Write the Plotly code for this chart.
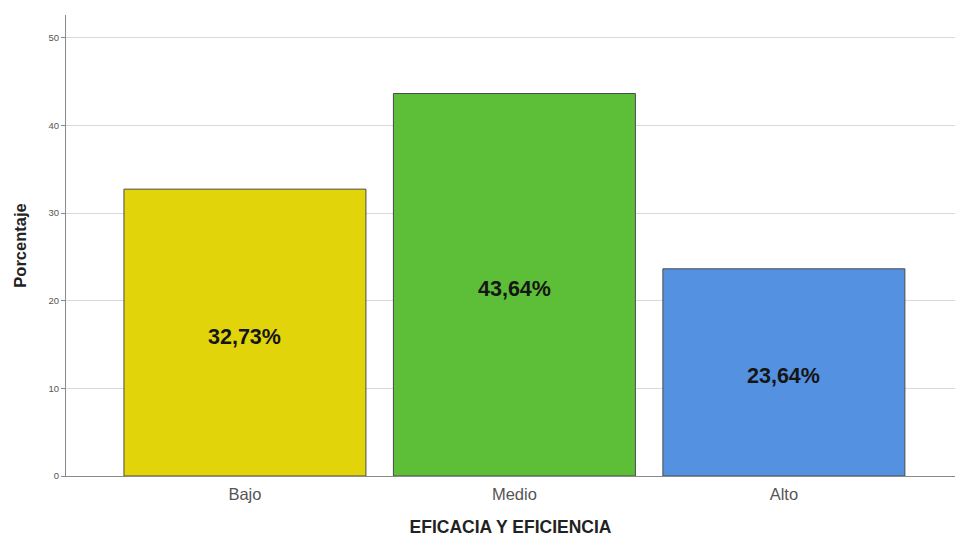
import plotly.graph_objects as go

# Nivel de eficacia y eficiencia (porcentaje de casos)
categorias = ["Bajo", "Medio", "Alto"]
porcentajes = [32.73, 43.64, 23.64]
colores = ["#E2D40B", "#5DBF38", "#5491E0"]
etiquetas = [f"{v:.2f}".replace(".", ",") + "%" for v in porcentajes]

fig = go.Figure(
    go.Bar(
        x=categorias,
        y=porcentajes,
        width=0.898,
        marker=dict(color=colores, line=dict(color="#4a4a4a", width=1)),
        hoverinfo="skip",
    )
)

# Etiqueta de porcentaje centrada en cada barra
for cat, val, txt in zip(categorias, porcentajes, etiquetas):
    fig.add_annotation(
        x=cat,
        y=val / 2,
        text=f"<b>{txt}</b>",
        showarrow=False,
        yshift=-4,
        font=dict(family="Liberation Sans, Arial", size=21.5, color="#151515"),
    )

fig.update_layout(
    width=955,
    height=537,
    margin=dict(l=66, r=0, t=15, b=61),
    plot_bgcolor="white",
    paper_bgcolor="white",
    showlegend=False,
    font=dict(family="Liberation Sans, Arial", color="#555555"),
    xaxis=dict(
        range=[-0.664, 2.635],
        showgrid=False,
        showline=True,
        linecolor="#8a8a8a",
        linewidth=1,
        ticks="",
        ticklabelstandoff=3,
        tickfont=dict(size=16.5, color="#555555"),
        title=dict(
            text="<b>EFICACIA Y EFICIENCIA</b>",
            font=dict(size=17.5, color="#222222"),
            standoff=19,
        ),
    ),
    yaxis=dict(
        range=[0, 52.6],
        tickvals=[0, 10, 20, 30, 40, 50],
        showgrid=True,
        gridcolor="#d9d9d9",
        gridwidth=1,
        showline=True,
        linecolor="#8a8a8a",
        linewidth=1,
        ticks="outside",
        ticklen=4,
        tickcolor="#8a8a8a",
        tickfont=dict(size=9.5, color="#555555"),
        zeroline=False,
        title=dict(
            text="<b>Porcentaje</b>",
            font=dict(size=16.5, color="#222222"),
            standoff=17,
        ),
    ),
)

fig.write_html("out.html")
